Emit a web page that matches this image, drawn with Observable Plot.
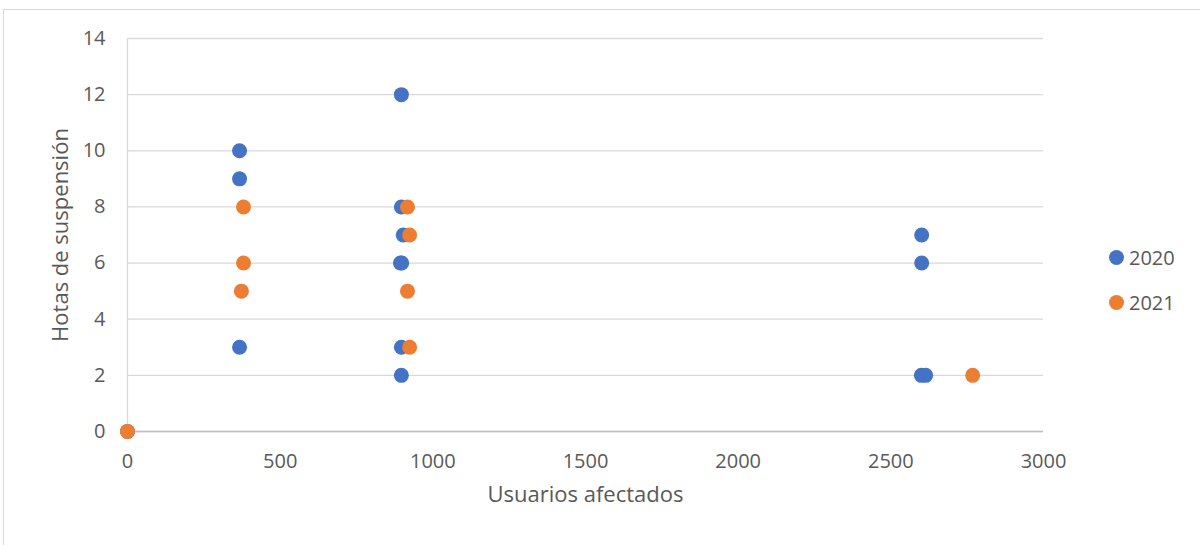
<!DOCTYPE html>
<html>
<head>
<meta charset="utf-8">
<script src="https://cdn.jsdelivr.net/npm/d3@7"></script>
<script src="https://cdn.jsdelivr.net/npm/@observablehq/plot@0.6"></script>
<style>
  body { margin: 0; background: #fff; }
  #wrap { position: relative; width: 1200px; height: 545px; overflow: hidden; font-family: "Open Sans", sans-serif; }
  #frame { position: absolute; left: 3px; top: 9px; width: 1300px; height: 600px; border-left: 1px solid #d9d9d9; border-top: 1px solid #d9d9d9; pointer-events: none; }
  #chart { position: absolute; left: 0; top: 0; }
  .leg { position: absolute; display: flex; align-items: center; font-size: 20px; color: #595959; }
  .leg span.sw { width: 15px; height: 15px; border-radius: 50%; display: inline-block; margin-right: 5px; }
</style>
</head>
<body>
<div id="wrap">
  <div id="frame"></div>
  <div id="chart"></div>
</div>
<script>
// Series 2020
const x2020 = [0, 367, 367, 367, 897, 897, 903, 894, 898, 897, 897, 2601, 2601, 2600, 2614];
const y2020 = [0, 10, 9, 3, 12, 8, 7, 6, 6, 3, 2, 7, 6, 2, 2];
// Series 2021
const x2021 = [0, 380, 380, 373, 917, 924, 917, 924, 2768];
const y2021 = [0, 8, 6, 5, 8, 7, 5, 3, 2];

const seriesNames = ["2020", "2021"];
const seriesColors = ["#4472C4", "#ED7D31"];
const xTicks = [0, 500, 1000, 1500, 2000, 2500, 3000];
const yTicks = [0, 2, 4, 6, 8, 10, 12, 14];
const xLabel = "Usuarios afectados";
const yLabel = "Hotas de suspensión";

const data = [
  ...x2020.map((x, i) => ({x, y: y2020[i], s: seriesNames[0]})),
  ...x2021.map((x, i) => ({x, y: y2021[i], s: seriesNames[1]}))
];

const chart = Plot.plot({
  width: 1200,
  height: 545,
  marginLeft: 127,
  marginRight: 157,
  marginTop: 38,
  marginBottom: 114,
  style: { fontFamily: "Open Sans, sans-serif", background: "transparent" },
  x: { domain: [0, 3000] },
  y: { domain: [0, 14] },
  color: { domain: seriesNames, range: seriesColors },
  marks: [
    Plot.gridY(yTicks, { stroke: "#d9d9d9", strokeOpacity: 1, strokeWidth: 1.3 }),
    Plot.ruleX([0], { y1: 0, y2: 14, stroke: "#d9d9d9", strokeWidth: 1.3 }),
    Plot.ruleY([0], { stroke: "#bfbfbf", strokeWidth: 1.3 }),
    Plot.axisX(xTicks, { tickSize: 0, tickPadding: 22, fontSize: 20, fill: "#595959", label: null, tickFormat: d => String(d) }),
    Plot.axisY(yTicks, { tickSize: 0, tickPadding: 22, fontSize: 20, fill: "#595959", label: null, tickFormat: d => String(d) }),
    Plot.dot(data, { x: "x", y: "y", fill: "s", r: 7.5, stroke: null }),
    Plot.text([xLabel], { frameAnchor: "bottom", dy: 70, fontSize: 22, fill: "#595959" }),
    Plot.text([yLabel], { frameAnchor: "left", dx: -67, rotate: -90, textAnchor: "middle", fontSize: 22, fill: "#595959" })
  ]
});
document.getElementById("chart").appendChild(chart);

// Legend
const wrap = document.getElementById("wrap");
const legTops = [244, 289];
seriesNames.forEach((name, i) => {
  const d = document.createElement("div");
  d.className = "leg";
  d.style.left = "1109px";
  d.style.top = legTops[i] + "px";
  d.innerHTML = `<span class="sw" style="background:${seriesColors[i]}"></span>${name}`;
  wrap.appendChild(d);
});
</script>
</body>
</html>
